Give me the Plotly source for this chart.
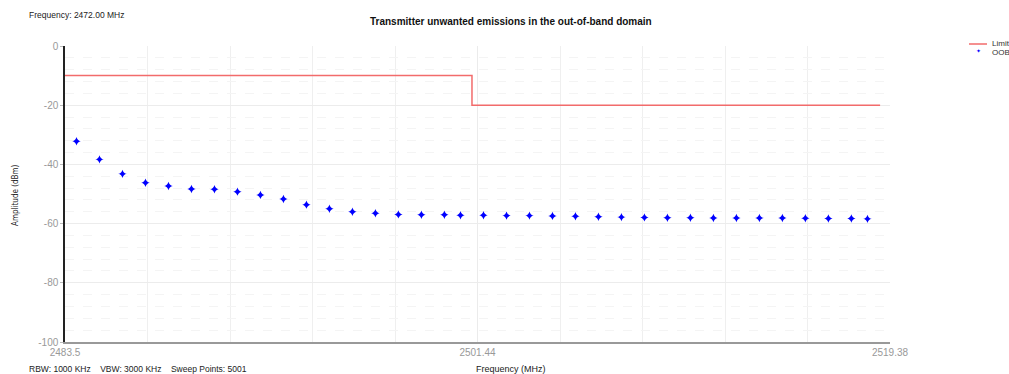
import plotly.graph_objects as go

# ---- data ----
oob_freq = [2484, 2485, 2486, 2487, 2488, 2489, 2490, 2491, 2492, 2493, 2494, 2495,
            2496, 2497, 2498, 2499, 2500, 2500.7, 2501.7, 2502.7, 2503.7, 2504.7,
            2505.7, 2506.7, 2507.7, 2508.7, 2509.7, 2510.7, 2511.7, 2512.7, 2513.7,
            2514.7, 2515.7, 2516.7, 2517.7, 2518.4]
oob_amp = [-32.2, -38.3, -43.2, -46.2, -47.3, -48.3, -48.4, -49.2, -50.3, -51.7, -53.6,
           -55.0, -56.0, -56.5, -56.9, -57.0, -57.0, -57.2, -57.2, -57.3, -57.3, -57.4,
           -57.5, -57.7, -57.8, -57.9, -58.0, -58.0, -58.1, -58.1, -58.1, -58.1, -58.2,
           -58.3, -58.3, -58.4]
limit_freq = [2483.5, 2501.2, 2501.2, 2518.95]
limit_amp = [-10, -10, -20, -20]
x_ticks = [2483.5, 2501.44, 2519.38]
x_tick_labels = ["2483.5", "2501.44", "2519.38"]
y_ticks = [0, -20, -40, -60, -80, -100]
y_tick_labels = ["0", "-20", "-40", "-60", "-80", "-100"]

FONT = "Liberation Sans, Arial, sans-serif"
LIMIT_COLOR = "#f26b6b"
OOB_COLOR = "#0000ff"

W, H = 1009, 374
PL, PR, PT, PB = 65, 119, 46, 32  # plot area spans x 65..890, y 46..342


def px(x):
    return (x - 65) / 825.0


def py(y):
    return (342 - y) / 296.0


fig = go.Figure()
fig.add_trace(go.Scatter(x=limit_freq, y=limit_amp, mode="lines", name="Limit",
                         line=dict(color=LIMIT_COLOR, width=1.5)))
fig.add_trace(go.Scatter(x=oob_freq, y=oob_amp, mode="markers", name="OOB",
                         marker=dict(symbol="star-diamond", size=6, color=OOB_COLOR,
                                     line=dict(width=0))))

fig.update_layout(
    width=W, height=H,
    margin=dict(l=PL, r=PR, t=PT, b=PB),
    paper_bgcolor="white", plot_bgcolor="white",
    font=dict(family=FONT, size=10, color="#333"),
    showlegend=False,
    xaxis=dict(range=[2483.5, 2519.38], tickvals=x_ticks, ticktext=x_tick_labels,
               showgrid=True, gridcolor="#ebebeb", gridwidth=1,
               minor=dict(tick0=2483.5, dtick=3.588, showgrid=True, gridcolor="#efefef", gridwidth=1),
               showline=True, linecolor="#999", linewidth=1.5, ticks="",
               tickfont=dict(size=10, color="#999"), zeroline=False),
    yaxis=dict(range=[-100, 0], tickvals=y_ticks, ticktext=y_tick_labels, showgrid=True,
               gridcolor="#ececec",
               minor=dict(tick0=0, dtick=4, showgrid=True, gridcolor="#f4f4f4", griddash="dash"),
               showline=True, linecolor="#222", linewidth=1.5, ticks="outside", ticklen=3,
               tickcolor="#bbb", tickfont=dict(size=10, color="#999"), zeroline=False),
)

fig.add_annotation(text="<b>Transmitter unwanted emissions in the out-of-band domain</b>",
                   xref="paper", yref="paper", x=px(511), y=py(21), showarrow=False,
                   font=dict(size=10, color="#111"), xanchor="center", yanchor="middle")
fig.add_annotation(text="Frequency: 2472.00 MHz", xref="paper", yref="paper",
                   x=px(27), y=py(15), showarrow=False,
                   font=dict(size=8.5, color="#222"), xanchor="left", yanchor="middle")
fig.add_annotation(text="Frequency (MHz)", xref="paper", yref="paper",
                   x=px(511), y=py(369), showarrow=False,
                   font=dict(size=9, color="#222"), xanchor="center", yanchor="middle")
fig.add_annotation(text="RBW: 1000 KHz    VBW: 3000 KHz    Sweep Points: 5001",
                   xref="paper", yref="paper", x=px(27), y=py(368.5),
                   showarrow=False, font=dict(size=8.5, color="#222"),
                   xanchor="left", yanchor="middle")
fig.add_annotation(text="Amplitude (dBm)", xref="paper", yref="paper",
                   x=px(15), y=py(195), showarrow=False, textangle=-90,
                   font=dict(size=8, color="#222", family="DejaVu Sans Condensed, Liberation Sans Narrow, sans-serif"),
                   xanchor="center", yanchor="middle")

# compact legend (drawn manually to get the tight row spacing of the reference)
fig.add_shape(type="line", xref="paper", yref="paper", x0=px(969), x1=px(987),
              y0=py(44), y1=py(44), line=dict(color=LIMIT_COLOR, width=1.5))
fig.add_annotation(text="Limit", xref="paper", yref="paper", x=px(990), y=py(44),
                   showarrow=False, xanchor="left", yanchor="middle",
                   font=dict(size=8, color="#333"))
fig.add_annotation(text="\u2726", xref="paper", yref="paper", x=px(978), y=py(51.5),
                   showarrow=False, xanchor="center", yanchor="middle",
                   font=dict(size=6, color=OOB_COLOR))
fig.add_annotation(text="OOB", xref="paper", yref="paper", x=px(990), y=py(52),
                   showarrow=False, xanchor="left", yanchor="middle",
                   font=dict(size=8, color="#333"))

fig.write_html(
    "out.html",
    config={"displayModeBar": False},
    post_script="document.body.style.margin='0';document.body.style.overflow='hidden';",
)
